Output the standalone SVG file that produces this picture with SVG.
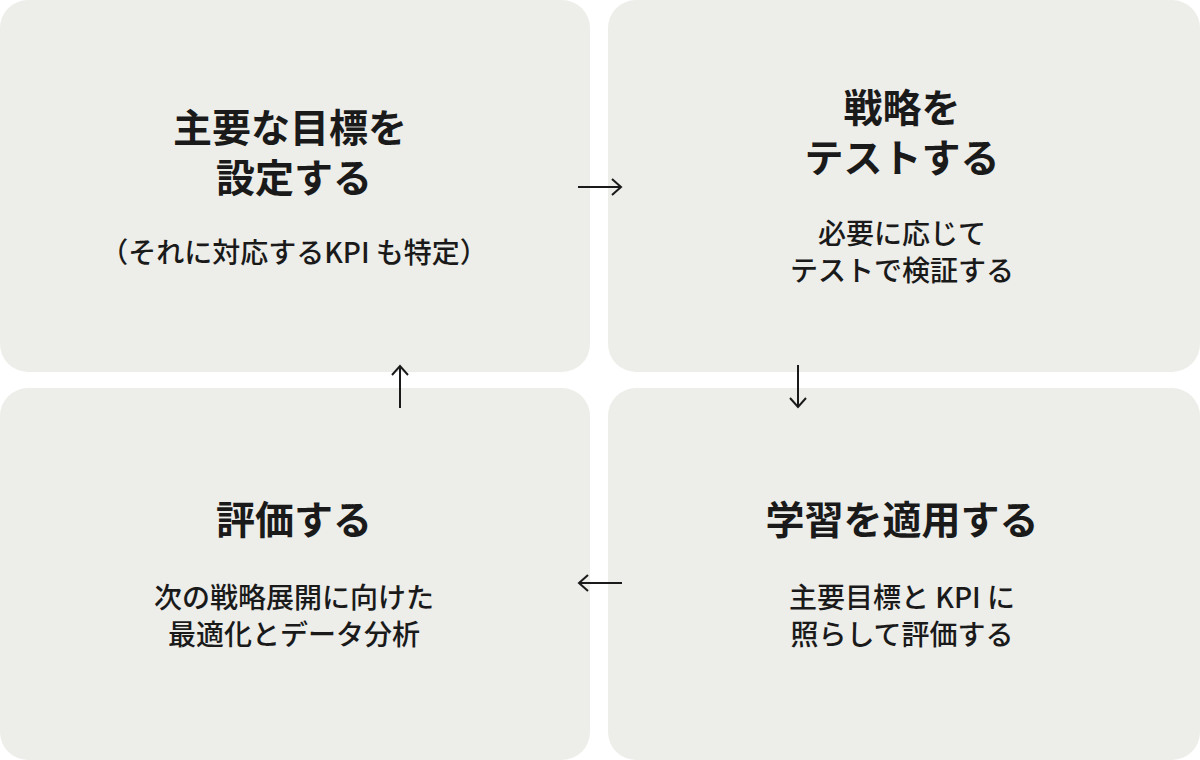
<svg xmlns="http://www.w3.org/2000/svg" width="1200" height="760" viewBox="0 0 1200 760">
<style>
.box{fill:#EDEDE9}
.t{font-family:"Noto Sans CJK JP","Noto Sans",sans-serif;font-weight:700;font-size:39px;fill:#1a1a1a;text-anchor:middle}
.s{font-family:"Noto Sans CJK JP","Noto Sans",sans-serif;font-weight:500;font-size:28px;fill:#1a1a1a;text-anchor:middle}
.c{stroke:#1a1a1a;stroke-width:2;fill:none}
</style>
<rect width="1200" height="760" fill="#fff"/>
<g id="n1"><rect class="box" x="0" y="0" width="590" height="372" rx="28"/>
<text class="t" x="290" y="142">主要な目標を</text><text class="t" x="294" y="192">設定する</text>
<text class="s" x="294" y="263">（それに対応するKPI も特定）</text></g>
<g id="n2"><rect class="box" x="608" y="0" width="592" height="372" rx="28"/>
<text class="t" x="902" y="122">戦略を</text><text class="t" x="902" y="172">テストする</text>
<text class="s" x="902" y="244">必要に応じて</text><text class="s" x="902" y="281">テストで検証する</text></g>
<g id="n3"><rect class="box" x="608" y="388" width="592" height="372" rx="28"/>
<text class="t" x="902" y="534">学習を適用する</text>
<text class="s" x="902" y="608">主要目標と KPI に</text><text class="s" x="902" y="645">照らして評価する</text></g>
<g id="n4"><rect class="box" x="0" y="388" width="590" height="372" rx="28"/>
<text class="t" x="294" y="534">評価する</text>
<text class="s" x="294" y="608">次の戦略展開に向けた</text><text class="s" x="294" y="645">最適化とデータ分析</text></g>
<g id="connectors">
<path class="c" d="M578 187H621M612 179L621 187L612 195"/>
<path class="c" d="M798 365V407M790 398L798 407L806 398"/>
<path class="c" d="M622 583H579M588 575L579 583L588 591"/>
<path class="c" d="M400 408V366M392 375L400 366L408 375"/>
</g>
</svg>
